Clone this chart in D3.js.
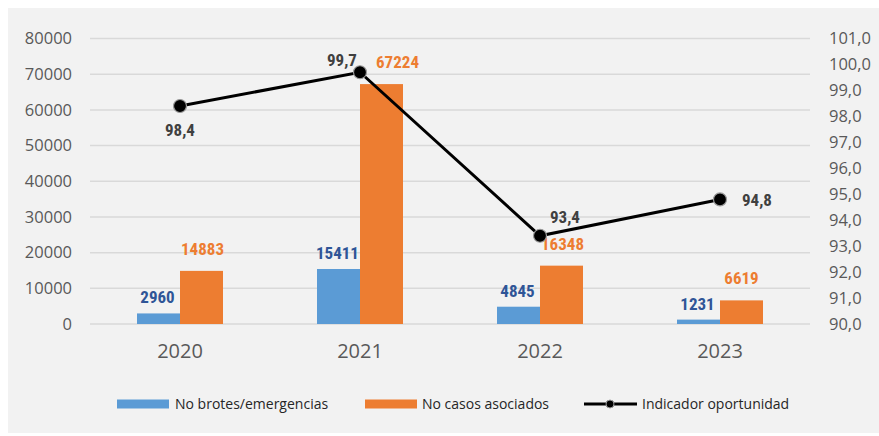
<!DOCTYPE html>
<html>
<head>
<meta charset="utf-8">
<script src="https://cdn.jsdelivr.net/npm/d3@7"></script>
<style>
  html, body { margin: 0; padding: 0; background: #ffffff; }
  svg { display: block; }
</style>
</head>
<body>
<svg id="chart" width="879" height="436"></svg>
<script>
const years = ["2020", "2021", "2022", "2023"];
const brotes = [2960, 15411, 4845, 1231];
const casos = [14883, 67224, 16348, 6619];
const indicador = [98.4, 99.7, 93.4, 94.8];
const leftTicks = [0, 10000, 20000, 30000, 40000, 50000, 60000, 70000, 80000];
const rightTicks = [90, 91, 92, 93, 94, 95, 96, 97, 98, 99, 100, 101];
const seriesNames = ["No brotes/emergencias", "No casos asociados", "Indicador oportunidad"];

const svg = d3.select("#chart");
const W = 879, H = 436;
const plot = { left: 90, right: 810, top: 38.5, bottom: 324 };

svg.append("rect").attr("x", 8).attr("y", 8).attr("width", W - 8).attr("height", H - 11)
  .attr("fill", "#f2f2f2");

const x = d3.scaleBand().domain(years).range([plot.left, plot.right]).paddingInner(0).paddingOuter(0);
const xs = d3.scaleBand().domain(["b", "c"]).range([0, x.bandwidth()]).paddingInner(0).paddingOuter(1.093);
const yL = d3.scaleLinear().domain([0, 80000]).range([plot.bottom, plot.top]);
const yR = d3.scaleLinear().domain([90, 101]).range([plot.bottom, plot.top]);

const tickFont = "'Open Sans', 'Liberation Sans', sans-serif";
const labelFont = "'Liberation Sans Narrow', 'Arial Narrow', 'Roboto Condensed', sans-serif";

// gridlines
svg.append("g").selectAll("line").data(leftTicks).join("line")
  .attr("x1", plot.left).attr("x2", plot.right)
  .attr("y1", d => yL(d)).attr("y2", d => yL(d))
  .attr("stroke", "#d9d9d9").attr("stroke-width", 1.5);

// left axis
const gL = svg.append("g").attr("transform", `translate(${plot.left},0)`)
  .call(d3.axisLeft(yL).tickValues(leftTicks).tickFormat(d3.format("d")).tickSize(0).tickPadding(18));
gL.select(".domain").remove();
gL.selectAll("text").attr("font-family", tickFont).attr("font-size", 16.5).attr("fill", "#595959");

// right axis
const gR = svg.append("g").attr("transform", `translate(${plot.right},0)`)
  .call(d3.axisRight(yR).tickValues(rightTicks).tickFormat(d => d3.format(".1f")(d).replace(".", ",")).tickSize(0).tickPadding(19));
gR.select(".domain").remove();
gR.selectAll("text").attr("font-family", tickFont).attr("font-size", 16.5).attr("fill", "#595959");

// x axis labels
const gX = svg.append("g").attr("transform", `translate(0,${plot.bottom})`)
  .call(d3.axisBottom(x).tickSize(0).tickPadding(20));
gX.select(".domain").remove();
gX.selectAll("text").attr("font-family", tickFont).attr("font-size", 20).attr("fill", "#595959");

// bars
const groups = svg.append("g").selectAll("g").data(years).join("g")
  .attr("transform", d => `translate(${x(d)},0)`);
groups.append("rect")
  .attr("x", xs("b")).attr("width", xs.bandwidth())
  .attr("y", (d, i) => yL(brotes[i])).attr("height", (d, i) => yL(0) - yL(brotes[i]))
  .attr("fill", "#5b9bd5");
groups.append("rect")
  .attr("x", xs("c")).attr("width", xs.bandwidth())
  .attr("y", (d, i) => yL(casos[i])).attr("height", (d, i) => yL(0) - yL(casos[i]))
  .attr("fill", "#ed7d31");

// bar labels
const casosLabelDx = [1, 16, 1, 0];
groups.append("text")
  .attr("x", xs("b") + xs.bandwidth() / 2 - 1)
  .attr("y", (d, i) => yL(brotes[i]) - 10)
  .attr("text-anchor", "middle")
  .attr("font-family", labelFont).attr("font-weight", "bold").attr("font-size", 17)
  .attr("fill", "#2f5597")
  .text((d, i) => brotes[i]);
groups.append("text")
  .attr("x", (d, i) => xs("c") + xs.bandwidth() / 2 + casosLabelDx[i])
  .attr("y", (d, i) => yL(casos[i]) - 16)
  .attr("text-anchor", "middle")
  .attr("font-family", labelFont).attr("font-weight", "bold").attr("font-size", 17)
  .attr("fill", "#ed7d31")
  .text((d, i) => casos[i]);

// line
const cx = d => x(d) + x.bandwidth() / 2;
const line = d3.line().x((d, i) => cx(years[i])).y(d => yR(d));
svg.append("path").datum(indicador).attr("d", line)
  .attr("fill", "none").attr("stroke", "#000").attr("stroke-width", 3);
svg.append("g").selectAll("circle").data(indicador).join("circle")
  .attr("cx", (d, i) => cx(years[i])).attr("cy", d => yR(d)).attr("r", 6.5)
  .attr("fill", "#000").attr("stroke", "#9a9a9a").attr("stroke-width", 1.2);

// line labels (offsets relative to point)
const lineLabelOffsets = [[0, 30], [-18, -6], [25, -13], [37, 7]];
svg.append("g").selectAll("text").data(indicador).join("text")
  .attr("x", (d, i) => cx(years[i]) + lineLabelOffsets[i][0])
  .attr("y", (d, i) => yR(d) + lineLabelOffsets[i][1])
  .attr("text-anchor", "middle")
  .attr("font-family", labelFont).attr("font-weight", "bold").attr("font-size", 17)
  .attr("fill", "#404040")
  .text(d => d3.format(".1f")(d).replace(".", ","));

// legend
const legY = 404;
const leg = svg.append("g").attr("font-family", tickFont).attr("font-size", 14).attr("fill", "#262626");
leg.append("rect").attr("x", 117).attr("y", legY - 4.5).attr("width", 52).attr("height", 9).attr("fill", "#5b9bd5");
leg.append("text").attr("x", 175).attr("y", legY + 5).text(seriesNames[0]);
leg.append("rect").attr("x", 365).attr("y", legY - 4.5).attr("width", 52).attr("height", 9).attr("fill", "#ed7d31");
leg.append("text").attr("x", 422).attr("y", legY + 5).text(seriesNames[1]);
leg.append("line").attr("x1", 584).attr("x2", 637).attr("y1", legY).attr("y2", legY)
  .attr("stroke", "#000").attr("stroke-width", 3);
leg.append("circle").attr("cx", 610).attr("cy", legY).attr("r", 4)
  .attr("fill", "#000").attr("stroke", "#9a9a9a").attr("stroke-width", 1);
leg.append("text").attr("x", 642).attr("y", legY + 5).text(seriesNames[2]);
</script>
</body>
</html>
